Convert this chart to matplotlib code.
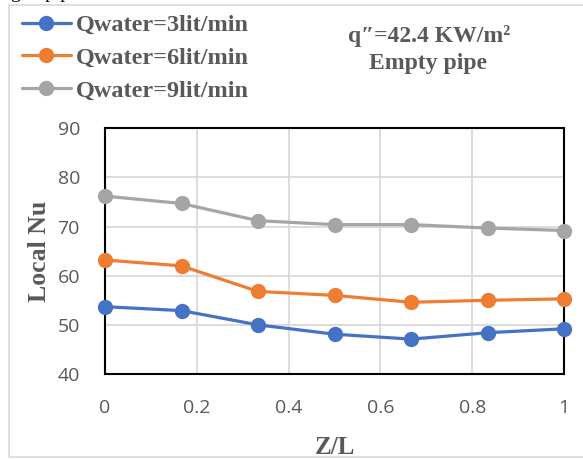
import matplotlib
matplotlib.use("Agg")
import matplotlib.pyplot as plt
from matplotlib.patches import Rectangle

z_over_l = [0, 1/6, 2/6, 3/6, 4/6, 5/6, 1]
nu_3 = [53.7, 52.9, 50.0, 48.1, 47.1, 48.4, 49.2]
nu_6 = [63.2, 62.0, 56.8, 56.0, 54.6, 55.0, 55.3]
nu_9 = [76.2, 74.7, 71.2, 70.4, 70.4, 69.7, 69.2]
labels = ["Qwater=3lit/min", "Qwater=6lit/min", "Qwater=9lit/min"]
colors = ["#4472C4", "#ED7D31", "#A5A5A5"]
xticks = [0, 0.2, 0.4, 0.6, 0.8, 1]
xticklabels = ["0", "0.2", "0.4", "0.6", "0.8", "1"]
yticks = [40, 50, 60, 70, 80, 90]

W, H = 583, 459
fig = plt.figure(figsize=(W/100, H/100), dpi=100)
ax = fig.add_axes([105/W, 1-374/H, (564-105)/W, (374-128.3)/H])

serif = ["Liberation Serif", "DejaVu Serif"]
txtc = "#595959"

for y, lab, c in zip([nu_3, nu_6, nu_9], labels, colors):
    ax.plot(z_over_l, y, color=c, lw=2.3, marker="o", ms=10, label=lab,
            solid_capstyle="round", zorder=3, clip_on=False)

ax.set_xlim(0, 1)
ax.set_ylim(40, 90)
ax.set_xticks(xticks)
ax.set_xticklabels(xticklabels)
ax.set_yticks(yticks)
ax.grid(True, color="#D9D9D9", lw=1.3)
ax.set_axisbelow(True)
for s in ax.spines.values():
    s.set_color("black")
    s.set_linewidth(1.5)
ax.tick_params(length=0, labelsize=14, labelcolor=txtc)
for t in ax.get_xticklabels() + ax.get_yticklabels():
    t.set_family(["Open Sans", "DejaVu Sans"])
ax.tick_params(axis="x", pad=18)
ax.tick_params(axis="y", pad=18)

ax.set_xlabel("Z/L", fontsize=18, fontweight="bold", family=serif, color=txtc, labelpad=14)
ax.set_ylabel("Local Nu", fontsize=18.5, fontweight="bold", family=serif, color=txtc, labelpad=5)

leg = fig.legend(loc="upper left", bbox_to_anchor=(22/W, 1-14/H), frameon=False,
                 prop={"family": serif, "weight": "bold", "size": 17.5},
                 handlelength=2.0, handletextpad=0.2, labelspacing=0.45,
                 borderaxespad=0, borderpad=0)
for t in leg.get_texts():
    t.set_color(txtc)

fig.text(429/W, 1-36/H, "q″=42.4 KW/m²", ha="center", va="center",
         fontsize=17, fontweight="bold", family=serif, color=txtc)
fig.text(428/W, 1-64/H, "Empty pipe", ha="center", va="center",
         fontsize=17, fontweight="bold", family=serif, color=txtc)

fig.patches.append(Rectangle((9/W, 1-457/H), 600/W, (457-5)/H, transform=fig.transFigure,
                             fill=False, edgecolor="#D9D9D9", lw=1.2))
fig.text(11/W, 1+2/H, "g     pipe", ha="left", va="baseline", fontsize=14,
         family=serif, color="black")

fig.savefig("out.png", dpi=100)
